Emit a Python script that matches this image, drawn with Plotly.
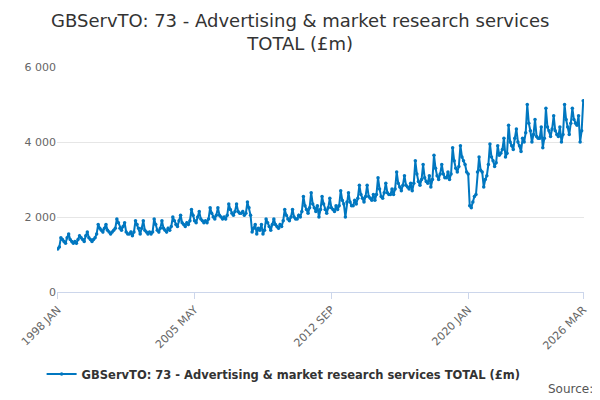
import plotly.graph_objects as go

MONTHS = ['JAN', 'FEB', 'MAR', 'APR', 'MAY', 'JUN', 'JUL', 'AUG', 'SEP', 'OCT', 'NOV', 'DEC']

v1998 = [1150, 1200, 1450, 1400, 1350, 1300, 1450, 1550, 1400, 1350, 1300, 1350]
v1999 = [1300, 1400, 1500, 1450, 1400, 1350, 1500, 1600, 1450, 1400, 1350, 1400]
v2000 = [1450, 1550, 1800, 1700, 1650, 1600, 1700, 1800, 1650, 1600, 1550, 1600]
v2001 = [1650, 1700, 1950, 1850, 1700, 1650, 1750, 1850, 1600, 1550, 1550, 1600]
v2002 = [1500, 1600, 1900, 1800, 1700, 1550, 1700, 1900, 1650, 1600, 1550, 1600]
v2003 = [1550, 1600, 1950, 1800, 1650, 1600, 1700, 1900, 1700, 1650, 1600, 1700]
v2004 = [1650, 1750, 2000, 1900, 1800, 1750, 1900, 2050, 1850, 1800, 1750, 1850]
v2005 = [1800, 1900, 2200, 2050, 1900, 1850, 2000, 2150, 1950, 1900, 1850, 1900]
v2006 = [1850, 1950, 2250, 2100, 2000, 1950, 2050, 2250, 2050, 2000, 1950, 2000]
v2007 = [1950, 2050, 2350, 2200, 2100, 2050, 2150, 2350, 2150, 2100, 2100, 2150]
v2008 = [2050, 2100, 2400, 2250, 2050, 1600, 1700, 1800, 1550, 1700, 1650, 1800]
v2009 = [1550, 1650, 1950, 1850, 1750, 1650, 1800, 1950, 1800, 1750, 1700, 1800]
v2010 = [1750, 1900, 2200, 2050, 1950, 1900, 2000, 2200, 2000, 1950, 1950, 2050]
v2011 = [2000, 2150, 2550, 2300, 2200, 2100, 2250, 2650, 2350, 2250, 2150, 2300]
v2012 = [2000, 2200, 2550, 2350, 2200, 2100, 2250, 2500, 2250, 2200, 2150, 2300]
v2013 = [2200, 2300, 2700, 2450, 2350, 2000, 2400, 2650, 2400, 2300, 2300, 2450]
v2014 = [2350, 2500, 2850, 2600, 2500, 2400, 2550, 2850, 2550, 2500, 2450, 2600]
v2015 = [2450, 2600, 3050, 2750, 2550, 2500, 2650, 2900, 2650, 2600, 2600, 2750]
v2016 = [2600, 2750, 3200, 2900, 2800, 2700, 2850, 3100, 2850, 2800, 2750, 2900]
v2017 = [2700, 2900, 3500, 3150, 2950, 2850, 3000, 3400, 3050, 2950, 2900, 3100]
v2018 = [2800, 3000, 3650, 3300, 3100, 3000, 3150, 3400, 3150, 3050, 3050, 3200]
v2019 = [3000, 3150, 3850, 3500, 3300, 3200, 3350, 3900, 3600, 3500, 3400, 3200]
v2020 = [3150, 2300, 2250, 2400, 2550, 2600, 3200, 3600, 3250, 3200, 2800, 3000]
v2021 = [3100, 3400, 3950, 3600, 3500, 3350, 3450, 3900, 3650, 3700, 3800, 4100]
v2022 = [3600, 3700, 4450, 4000, 3900, 3800, 4100, 4350, 4000, 3900, 3750, 4100]
v2023 = [4000, 4250, 5000, 4500, 4300, 4000, 4200, 4600, 4150, 4100, 4100, 4400]
v2024 = [3850, 4100, 4900, 4400, 4300, 4150, 4350, 4700, 4300, 4200, 4150, 4400]
v2025 = [4000, 4200, 5000, 4600, 4400, 4200, 4500, 4900, 4600, 4500, 4450, 4700]
v2026 = [4000, 4300, 5100]

yearly = [v1998, v1999, v2000, v2001, v2002, v2003, v2004, v2005, v2006, v2007,
          v2008, v2009, v2010, v2011, v2012, v2013, v2014, v2015, v2016, v2017,
          v2018, v2019, v2020, v2021, v2022, v2023, v2024, v2025, v2026]

labels = []
values = []
for i, vals in enumerate(yearly):
    for m, v in enumerate(vals):
        labels.append('{} {}'.format(1998 + i, MONTHS[m]))
        values.append(v)

tick_labels = ['1998 JAN', '2005 MAY', '2012 SEP', '2020 JAN', '2026 MAR']
name = 'GBServTO: 73 - Advertising & market research services TOTAL (£m)'
title = 'GBServTO: 73 - Advertising & market research services<br>TOTAL (£m)'

fig = go.Figure(go.Scatter(
    x=labels, y=values, mode='lines+markers', name='<b>' + name + '</b>',
    line={'color': '#0077c0', 'width': 2},
    marker={'size': 3.5, 'color': '#0077c0'},
    showlegend=True))

fig.update_layout(
    width=600, height=400,
    plot_bgcolor='white', paper_bgcolor='white',
    font={'family': 'DejaVu Sans', 'color': '#333333'},
    margin={'l': 49, 'r': 24, 't': 59, 'b': 116, 'autoexpand': False},
    legend={'orientation': 'h', 'x': 0.43, 'xanchor': 'center', 'y': -0.30,
            'font': {'size': 11.5, 'color': '#333333'}},
    annotations=[
        {'text': title, 'xref': 'paper', 'yref': 'paper', 'x': 0.462, 'y': 1.155,
         'xanchor': 'center', 'yanchor': 'middle', 'showarrow': False,
         'font': {'size': 18, 'color': '#333333'}},
        {'text': 'Source:', 'xref': 'paper', 'yref': 'paper', 'x': 1.02, 'y': -0.47,
         'xanchor': 'right', 'showarrow': False, 'font': {'size': 12, 'color': '#555555'}}],
    separators='. ',
)
fig.update_xaxes(type='category', tickmode='array', tickvals=tick_labels, ticktext=tick_labels,
                 tickangle=-45, ticks='outside', ticklen=6, tickcolor='#ccd6eb',
                 showline=True, linecolor='#ccd6eb', showgrid=False, automargin=False,
                 tickfont={'size': 11, 'color': '#666666'}, range=[-0.5, len(labels) - 0.5])
fig.update_yaxes(range=[0, 6000], dtick=2000, gridcolor='#e6e6e6', zeroline=False,
                 tickformat=',d', automargin=False,
                 tickfont={'size': 11, 'color': '#666666'})

fig.write_html('out.html')
